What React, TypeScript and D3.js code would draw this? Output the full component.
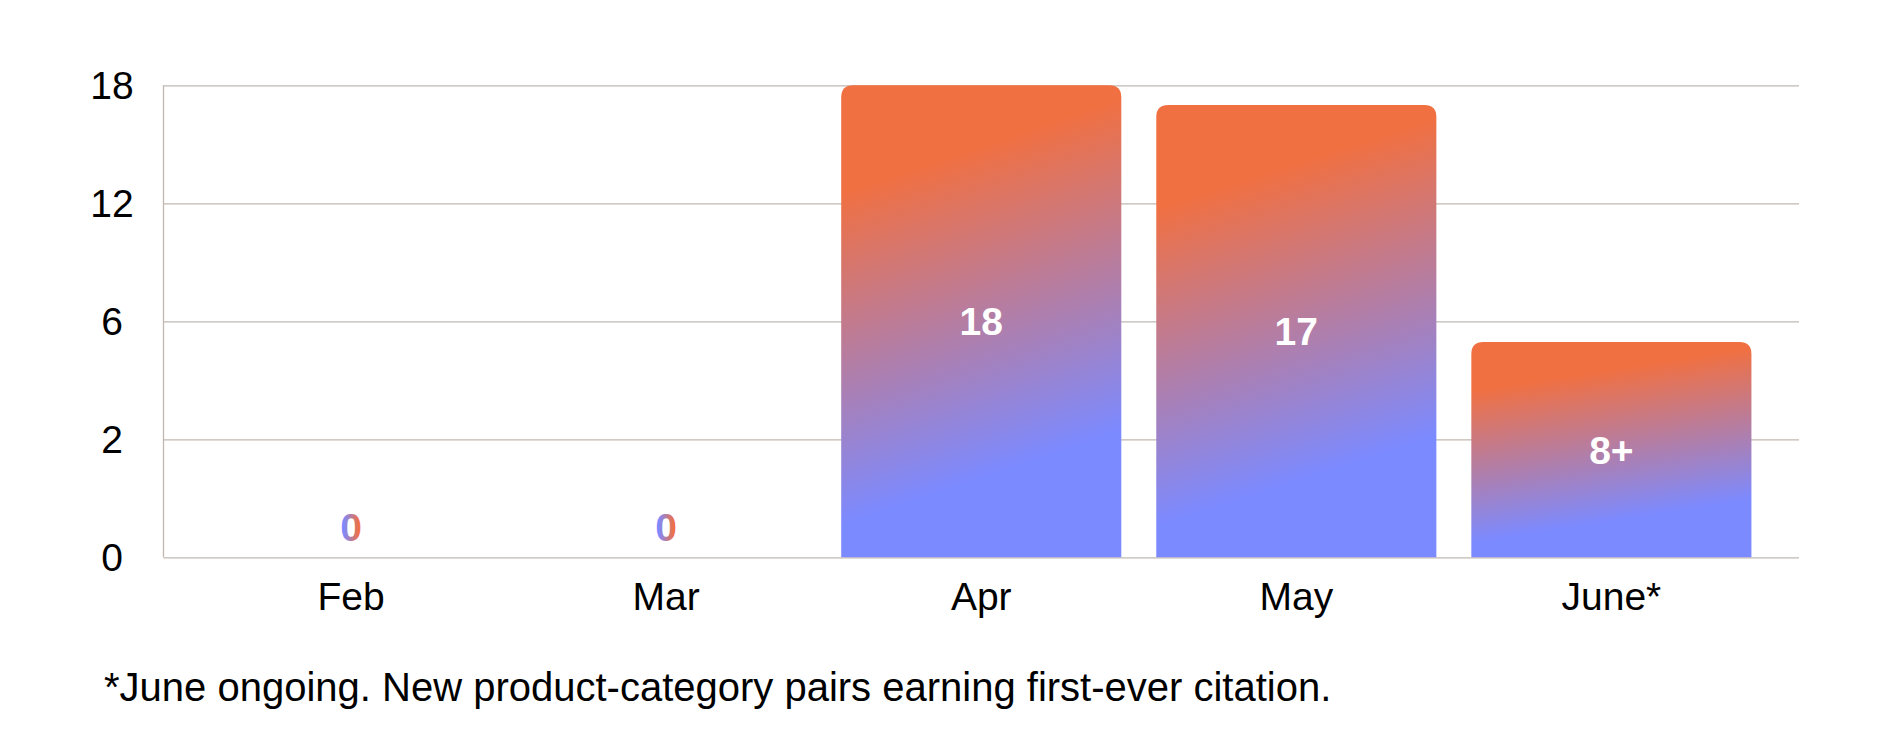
import React, { useEffect, useRef } from 'react';
import * as d3 from 'd3';

const months: string[] = ['Feb', 'Mar', 'Apr', 'May', 'June*'];
const newPairs: number[] = [0, 0, 18, 17, 5.3];
const valueLabels: string[] = ['0', '0', '18', '17', '8+'];
const yTicks: number[] = [0, 2, 6, 12, 18];
const footnote = '*June ongoing. New product-category pairs earning first-ever citation.';

const ORANGE = '#F07042';
const BLUE = '#7C8AFF';
const GRID = '#C2B8B0';
const FONT = '"Liberation Sans", Arial, Helvetica, sans-serif';

const App: React.FC = () => {
  const svgRef = useRef<SVGSVGElement | null>(null);

  useEffect(() => {
    if (!svgRef.current) return;

    const width = 1900;
    const height = 747;
    const left = 163.5;
    const right = 1799;
    const top = 85.3;
    const bottom = 557.3;

    const svg = d3.select(svgRef.current);
    svg.selectAll('*').remove();

    // gradients (bar one is tilted: right side turns blue sooner)
    const defs = svg.append('defs');
    const barGrad = defs
      .append('linearGradient')
      .attr('id', 'barGrad')
      .attr('x1', 0)
      .attr('y1', 0)
      .attr('x2', 0.1923)
      .attr('y2', 0.9615);
    barGrad.append('stop').attr('offset', 0.23).attr('stop-color', ORANGE);
    barGrad.append('stop').attr('offset', 0.93).attr('stop-color', BLUE);

    const zeroGrad = defs
      .append('linearGradient')
      .attr('id', 'zeroGrad')
      .attr('x1', 0)
      .attr('y1', 0)
      .attr('x2', 1)
      .attr('y2', 0);
    zeroGrad.append('stop').attr('offset', 0.15).attr('stop-color', BLUE);
    zeroGrad.append('stop').attr('offset', 0.85).attr('stop-color', ORANGE);

    // scales: ticks are evenly spaced, so y is piecewise linear between them
    const yScale = d3
      .scaleLinear()
      .domain(yTicks)
      .range(yTicks.map((_, i) => bottom - (i * (bottom - top)) / (yTicks.length - 1)));

    const xScale = d3
      .scaleBand<string>()
      .domain(months)
      .range([left, right])
      .paddingInner(0.111)
      .paddingOuter(0.151);

    // grid lines
    svg
      .append('g')
      .attr('transform', `translate(${left},0)`)
      .call(
        d3
          .axisLeft(yScale)
          .tickValues(yTicks)
          .tickSize(-(right - left))
          .tickFormat(() => '')
      )
      .call((g) => g.select('.domain').remove())
      .selectAll('line')
      .attr('stroke', GRID)
      .attr('stroke-width', 1.3);

    svg
      .append('line')
      .attr('x1', left)
      .attr('x2', left)
      .attr('y1', top)
      .attr('y2', bottom)
      .attr('stroke', GRID)
      .attr('stroke-width', 1.3);

    // y tick labels
    svg
      .append('g')
      .selectAll('text')
      .data(yTicks)
      .enter()
      .append('text')
      .attr('x', 112)
      .attr('y', (d) => yScale(d))
      .attr('dy', '0.36em')
      .attr('text-anchor', 'middle')
      .attr('font-family', FONT)
      .attr('font-size', 39)
      .attr('fill', '#000')
      .text((d) => String(d));

    // bars with rounded top corners
    const r = 12;
    const barPath = (x: number, y: number, w: number, h: number) => {
      const rr = Math.min(r, h, w / 2);
      return `M${x},${y + h}V${y + rr}Q${x},${y} ${x + rr},${y}H${x + w - rr}Q${x + w},${y} ${x + w},${y + rr}V${y + h}Z`;
    };

    const bw = xScale.bandwidth();
    const idx = d3.range(months.length);

    svg
      .append('g')
      .selectAll('path')
      .data(idx.filter((i) => newPairs[i] > 0))
      .enter()
      .append('path')
      .attr('d', (i) => {
        const x = xScale(months[i]) as number;
        const y = yScale(newPairs[i]);
        return barPath(x, y, bw, bottom - y);
      })
      .attr('fill', 'url(#barGrad)');

    // value labels
    svg
      .append('g')
      .selectAll('text')
      .data(idx)
      .enter()
      .append('text')
      .attr('x', (i) => (xScale(months[i]) as number) + bw / 2)
      .attr('y', (i) => (newPairs[i] > 0 ? (yScale(newPairs[i]) + bottom) / 2 : bottom - 30))
      .attr('dy', '0.36em')
      .attr('text-anchor', 'middle')
      .attr('font-family', FONT)
      .attr('font-weight', 'bold')
      .attr('font-size', 39)
      .attr('fill', (i) => (newPairs[i] > 0 ? '#fff' : 'url(#zeroGrad)'))
      .text((i) => valueLabels[i]);

    // x labels
    svg
      .append('g')
      .selectAll('text')
      .data(months)
      .enter()
      .append('text')
      .attr('x', (d) => (xScale(d) as number) + bw / 2)
      .attr('y', 610)
      .attr('text-anchor', 'middle')
      .attr('font-family', FONT)
      .attr('font-size', 39)
      .attr('fill', '#000')
      .text((d) => d);

    // footnote
    svg
      .append('text')
      .attr('x', 104)
      .attr('y', 701)
      .attr('font-family', FONT)
      .attr('font-size', 40)
      .attr('fill', '#000')
      .text(footnote);

    svg.attr('width', width).attr('height', height);
  }, []);

  return (
    <div style={{ position: 'absolute', left: 0, top: 0, background: '#fff' }}>
      <svg ref={svgRef} width={1900} height={747} style={{ display: 'block' }} />
    </div>
  );
};

export default App;
